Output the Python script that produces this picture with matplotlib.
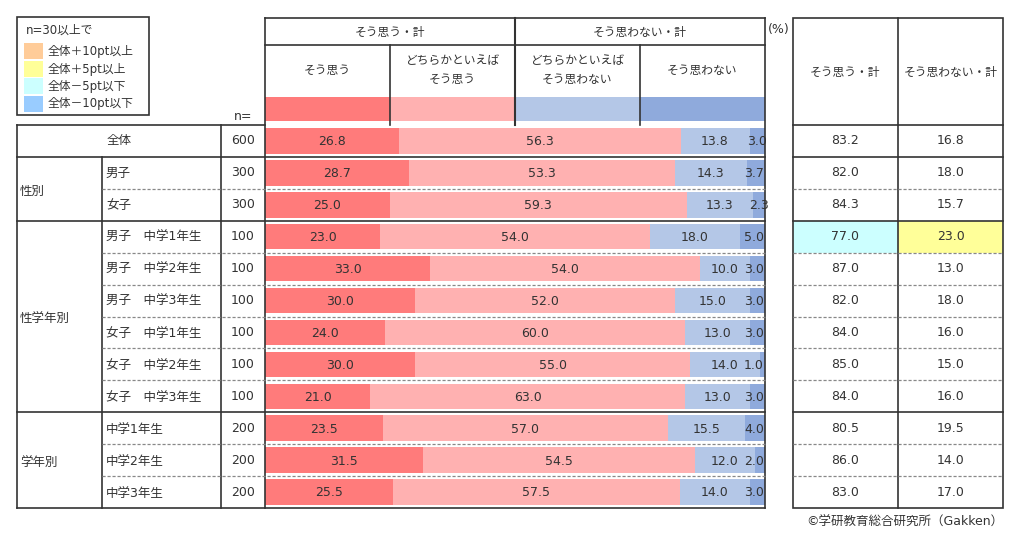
import numpy as np
import matplotlib
matplotlib.use("Agg")
import matplotlib.pyplot as plt
from matplotlib.patches import Rectangle

plt.rcParams['font.family'] = ['DejaVu Sans', 'Noto Sans CJK JP']

# ---- data ----
row_labels = ["全体", "男子", "女子",
              "男子　中学1年生", "男子　中学2年生", "男子　中学3年生",
              "女子　中学1年生", "女子　中学2年生", "女子　中学3年生",
              "中学1年生", "中学2年生", "中学3年生"]
n_values = [600, 300, 300, 100, 100, 100, 100, 100, 100, 200, 200, 200]
groups = [("性別", 1, 3), ("性学年別", 3, 9), ("学年別", 9, 12)]

sou_omou = [26.8, 28.7, 25.0, 23.0, 33.0, 30.0, 24.0, 30.0, 21.0, 23.5, 31.5, 25.5]
dochira_omou = [56.3, 53.3, 59.3, 54.0, 54.0, 52.0, 60.0, 55.0, 63.0, 57.0, 54.5, 57.5]
dochira_omowanai = [13.8, 14.3, 13.3, 18.0, 10.0, 15.0, 13.0, 14.0, 13.0, 15.5, 12.0, 14.0]
omowanai = [3.0, 3.7, 2.3, 5.0, 3.0, 3.0, 3.0, 1.0, 3.0, 4.0, 2.0, 3.0]
total_omou = [83.2, 82.0, 84.3, 77.0, 87.0, 82.0, 84.0, 85.0, 84.0, 80.5, 86.0, 83.0]
total_omowanai = [16.8, 18.0, 15.7, 23.0, 13.0, 18.0, 16.0, 15.0, 16.0, 19.5, 14.0, 17.0]

series_names = ["そう思う", "どちらかといえば\nそう思う", "どちらかといえば\nそう思わない", "そう思わない"]
series_colors = ["#FF7B7B", "#FFB1B1", "#B4C7E7", "#8FAADC"]
legend_labels = ["全体＋10pt以上", "全体＋5pt以上", "全体－5pt以下", "全体－10pt以下"]
legend_colors = ["#FFCC99", "#FFFF99", "#CCFFFF", "#99CCFF"]
# highlight per cell in the totals table: (row, col) -> colour index in legend
highlights = {(3, 0): 2, (3, 1): 1}

TXT = "#333333"
LINE = "#333333"
DASH = "#888888"
FS = 9

W, H = 1022, 539
fig = plt.figure(figsize=(W / 100, H / 100), dpi=100)

# layout in pixels
x_left, x_c1, x_c2, x_bar0, x_bar1 = 17, 102, 221, 265, 765
x_r0, x_rc, x_r1 = 793, 898, 1003
y_top, y_h1, y_body, y_bot = 18, 45, 125, 508
nrows = len(row_labels)
rh = (y_bot - y_body) / nrows
row_y = [y_body + i * rh for i in range(nrows + 1)]


def fx(px):
    return px / W


def fy(py):
    return 1 - py / H


# ---- bar axes ----
bx = fig.add_axes([fx(x_bar0), fy(y_bot), fx(x_bar1) - fx(x_bar0), fy(y_body) - fy(y_bot)])
bx.set_xlim(0, 100)
bx.set_ylim(nrows - 0.5, -0.5)
bx.axis("off")
series = [sou_omou, dochira_omou, dochira_omowanai, omowanai]
ypos = np.arange(nrows)
left = np.zeros(nrows)
for vals, col in zip(series, series_colors):
    vals = np.array(vals)
    bx.barh(ypos, vals, left=left, height=0.8, color=col, edgecolor="none")
    for i, v in enumerate(vals):
        cx, ha = left[i] + v / 2, "center"
        if left[i] + v >= 99.9 and v < 6:
            cx, ha = 99.8, "right"
        bx.text(cx, i + 0.03, f"{v:.1f}", ha=ha, va="center", fontsize=FS, color=TXT)
    left += vals

# ---- header swatches ----
hx = fig.add_axes([fx(x_bar0), fy(121), fx(x_bar1) - fx(x_bar0), fy(97) - fy(121)])
hx.set_xlim(0, 100)
hx.set_ylim(-0.5, 0.5)
hx.axis("off")
seg = 100 / len(series_names)
hx.barh([0] * 4, [seg] * 4, left=np.arange(4) * seg, height=1.0, color=series_colors)

# ---- overlay for table lines and text ----
ax = fig.add_axes([0, 0, 1, 1])
ax.set_xlim(0, W)
ax.set_ylim(H, 0)
ax.axis("off")


def hline(y, x0, x1, dashed=False):
    if dashed:
        ax.plot([x0, x1], [y, y], color=DASH, lw=0.9, ls=(0, (2.5, 1.5)))
    else:
        ax.plot([x0, x1], [y, y], color=LINE, lw=1.2)


def vline(x, y0, y1, lw=1.2):
    ax.plot([x, x], [y0, y1], color=LINE, lw=lw)


# legend box
ax.add_patch(Rectangle((x_left, 17), 132, 98, fill=False, ec=LINE, lw=1.2))
ax.text(26, 30, "n=30以上で", fontsize=FS - 0.5, color=TXT, va="center")
for k, (lab, col) in enumerate(zip(legend_labels, legend_colors)):
    yy = 43 + k * 17.5
    ax.add_patch(Rectangle((24, yy), 19, 16, color=col, lw=0))
    ax.text(48, yy + 8.5, lab, fontsize=FS - 0.5, color=TXT, va="center")
ax.text(243, 116, "n=", fontsize=FS, color=TXT, ha="center", va="center")

# header of bar area
hline(y_top, x_bar0, x_bar1)
hline(y_h1, x_bar0, x_bar1)
vline(x_bar0, y_top, y_bot)
vline(x_bar1, y_top, y_bot)
xs = [x_bar0 + k * (x_bar1 - x_bar0) / 4 for k in range(5)]
vline(xs[2], y_top, y_body, lw=1.5)
vline(xs[1], y_h1, y_body)
vline(xs[3], y_h1, y_body)
ax.text((xs[0] + xs[2]) / 2, 32, "そう思う・計", fontsize=FS - 0.5, color=TXT, ha="center", va="center")
ax.text((xs[2] + xs[4]) / 2, 32, "そう思わない・計", fontsize=FS - 0.5, color=TXT, ha="center", va="center")
for k, name in enumerate(series_names):
    ax.text((xs[k] + xs[k + 1]) / 2, 70, name, fontsize=FS - 0.5, color=TXT,
            ha="center", va="center", linespacing=1.6)
ax.text(768, 30, "(%)", fontsize=FS, color=TXT, va="center")

# left table
hline(y_body, x_left, x_bar0)
hline(y_bot, x_left, x_bar1)
vline(x_left, y_body, y_bot)
vline(x_c2, y_body, y_bot)
vline(x_c1, row_y[1], y_bot)
group_starts = [g[1] for g in groups]
for i in range(1, nrows):
    if i in group_starts:
        hline(row_y[i], x_left, x_bar1)
    else:
        hline(row_y[i], x_c1, x_bar1, dashed=True)

for i, (lab, n) in enumerate(zip(row_labels, n_values)):
    yc = (row_y[i] + row_y[i + 1]) / 2
    if i == 0:
        ax.text((x_left + x_c2) / 2, yc, lab, fontsize=FS, color=TXT, ha="center", va="center")
    else:
        ax.text(x_c1 + 4, yc + 1, lab, fontsize=FS, color=TXT, ha="left", va="center")
    ax.text((x_c2 + x_bar0) / 2, yc, str(n), fontsize=FS, color=TXT, ha="center", va="center")
for name, s, e in groups:
    ax.text(x_left + 3, (row_y[s] + row_y[e]) / 2 + 3, name, fontsize=FS, color=TXT,
            ha="left", va="center")

# right totals table
for (r, c), ci in highlights.items():
    x0 = x_r0 if c == 0 else x_rc
    x1 = x_rc if c == 0 else x_r1
    ax.add_patch(Rectangle((x0, row_y[r]), x1 - x0, rh, color=legend_colors[ci], lw=0))
ax.add_patch(Rectangle((x_r0, y_top), x_r1 - x_r0, y_bot - y_top, fill=False, ec=LINE, lw=1.2))
vline(x_rc, y_top, y_bot)
hline(y_body, x_r0, x_r1)
for i in range(1, nrows):
    if i in group_starts:
        hline(row_y[i], x_r0, x_r1)
    else:
        hline(row_y[i], x_r0, x_r1, dashed=True)
ax.text((x_r0 + x_rc) / 2, 72, "そう思う・計", fontsize=FS - 0.5, color=TXT, ha="center", va="center")
ax.text((x_rc + x_r1) / 2, 72, "そう思わない・計", fontsize=FS - 0.5, color=TXT, ha="center", va="center")
for i in range(nrows):
    yc = (row_y[i] + row_y[i + 1]) / 2
    ax.text((x_r0 + x_rc) / 2, yc, f"{total_omou[i]:.1f}", fontsize=FS, color=TXT, ha="center", va="center")
    ax.text((x_rc + x_r1) / 2, yc, f"{total_omowanai[i]:.1f}", fontsize=FS, color=TXT, ha="center", va="center")

ax.text(x_r1, 522, "©学研教育総合研究所（Gakken）", fontsize=FS, color=TXT, ha="right", va="center")

fig.savefig("out.png", dpi=100, facecolor="white")
